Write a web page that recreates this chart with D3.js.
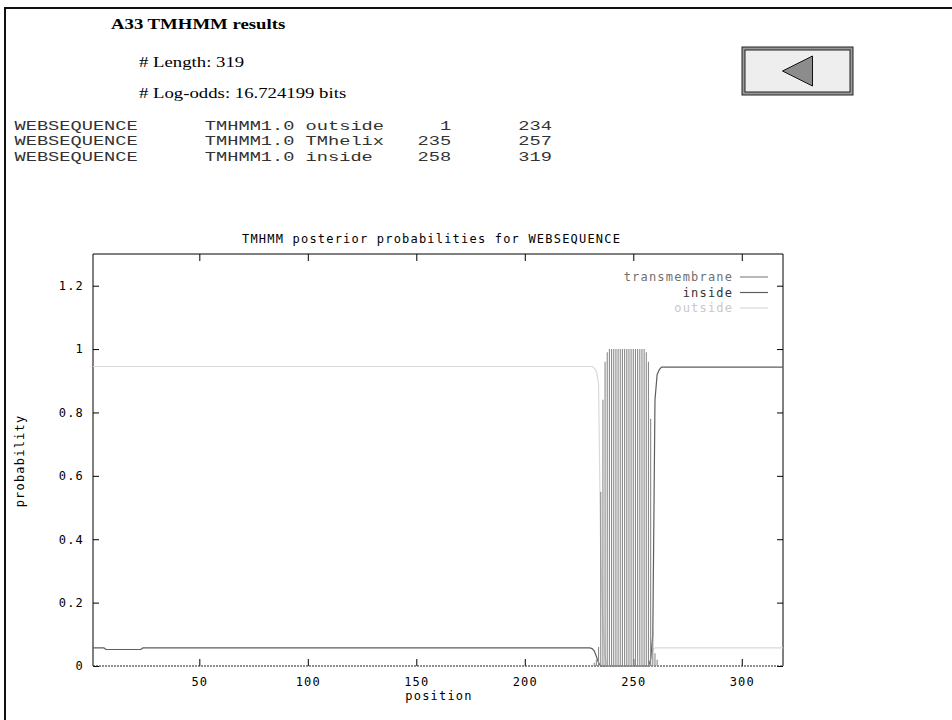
<!DOCTYPE html>
<html>
<head>
<meta charset="utf-8">
<script src="https://cdn.jsdelivr.net/npm/d3@7"></script>
<style>
  body { margin: 0; background: #fff; }
  svg { display: block; }
  .serif { font-family: "Liberation Serif", "Times New Roman", serif; font-size: 15px; fill: #000; }
  .mono { font-family: "Liberation Mono", "Courier New", monospace; font-size: 13.5px; fill: #333; white-space: pre; }
  .gp { font-family: "DejaVu Sans Mono", monospace; font-size: 12px; letter-spacing: 1.2px; }
</style>
</head>
<body>
<div id="page"></div>
<script>
// ---- data ----
const seqName = "A33";
const seqLength = 319;
const logOdds = "16.724199";

const tableNames = ["WEBSEQUENCE", "WEBSEQUENCE", "WEBSEQUENCE"];
const tableTypes = ["outside", "TMhelix", "inside"];
const tableStart = [1, 235, 258];
const tableEnd = [234, 257, 319];

const xTicks = [50, 100, 150, 200, 250, 300];
const yTicks = [0, 0.2, 0.4, 0.6, 0.8, 1, 1.2];

// transmembrane, drawn as impulses (positions with a visible value)
const tmPos = [232, 233, 234, 235, 236, 237, 238, 239, 240, 241, 242, 243, 244, 245, 246,
               247, 248, 249, 250, 251, 252, 253, 254, 255, 256, 257, 258, 259, 260, 261];
const tmVal = [0.01, 0.02, 0.06, 0.55, 0.84, 0.96, 0.99, 1, 1, 1, 1, 1, 1, 1, 1,
               1, 1, 1, 1, 1, 1, 1, 1, 1, 0.99, 0.96, 0.78, 0.11, 0.04, 0.02];

// inside / outside lines (break points of the curves)
const insidePos = [1, 6, 7, 23, 24, 230, 231, 232, 233, 234, 235, 257, 258, 259, 260, 261, 262, 263, 319];
const insideVal = [0.057, 0.057, 0.052, 0.052, 0.057, 0.057, 0.055, 0.048, 0.03, 0.01, 0, 0,
                   0.02, 0.1, 0.84, 0.92, 0.935, 0.943, 0.943];

const outsidePos = [1, 231, 232, 233, 234, 235, 236, 237, 238, 257, 258, 259, 260, 319];
const outsideVal = [0.945, 0.945, 0.94, 0.93, 0.89, 0.35, 0.13, 0.03, 0, 0, 0.02, 0.05, 0.057, 0.057];

const legendNames = ["transmembrane", "inside", "outside"];
const seriesColors = {transmembrane: "#8a8a8a", inside: "#5e5e5e", outside: "#d9d9d9"};
const legendTextColors = {transmembrane: "#707070", inside: "#333333", outside: "#c8c8c8"};

// ---- page ----
const width = 952, height = 720;
const svg = d3.select("#page").append("svg")
    .attr("width", width)
    .attr("height", height);

// frame of the page picture
svg.append("line")
    .attr("x1", 5).attr("x2", 5).attr("y1", 7).attr("y2", height)
    .attr("stroke", "#111").attr("stroke-width", 2);
svg.append("line")
    .attr("x1", 4).attr("x2", width).attr("y1", 8).attr("y2", 8)
    .attr("stroke", "#111").attr("stroke-width", 2);

// the page picture is a bit wider than tall, so header text gets stretched
function placeText(x, y, sx) {
    return "translate(" + x + "," + y + ") scale(" + sx + ",1)";
}

// header
svg.append("text").attr("class", "serif")
    .attr("transform", placeText(111, 28.5, 1.25))
    .attr("font-weight", "bold")
    .text(seqName + " TMHMM results");
svg.append("text").attr("class", "serif")
    .attr("transform", placeText(139, 66.5, 1.25))
    .text("# Length: " + seqLength);
svg.append("text").attr("class", "serif")
    .attr("transform", placeText(139, 97.5, 1.25))
    .text("# Log-odds: " + logOdds + " bits");

// result table (pre formatted)
tableNames.forEach(function(name, i) {
    let line = name.padEnd(17) + "TMHMM1.0 " + tableTypes[i].padEnd(8)
        + String(tableStart[i]).padStart(5) + String(tableEnd[i]).padStart(9);
    svg.append("text").attr("class", "mono")
        .attr("transform", placeText(14.5, 129.5 + i * 15.8, 1.383))
        .text(line);
});

// back button
let btn = svg.append("g");
btn.append("rect")
    .attr("x", 742).attr("y", 47).attr("width", 111).attr("height", 48)
    .attr("fill", "#999").attr("stroke", "#222").attr("stroke-width", 1);
btn.append("rect")
    .attr("x", 745).attr("y", 50).attr("width", 105).attr("height", 42)
    .attr("fill", "#eeeeee").attr("stroke", "#222").attr("stroke-width", 1);
btn.append("path")
    .attr("d", "M782.5,71 L812.5,56 L812.5,86 Z")
    .attr("fill", "#8c8c8c").attr("stroke", "#111").attr("stroke-width", 1);

// ---- plot ----
const plot = {left: 93, right: 783, top: 254, bottom: 666};

const x = d3.scaleLinear().domain([1, seqLength]).range([plot.left, plot.right]);
const y = d3.scaleLinear().domain([0, 1.3]).range([plot.bottom, plot.top]);

function styleAxis(g) {
    g.select(".domain").remove();
    g.attr("font-family", null).attr("font-size", null);
    g.selectAll(".tick line").attr("stroke", "#000");
    g.selectAll(".tick text").attr("class", "gp").attr("fill", "#000");
}

svg.append("g")
    .attr("transform", "translate(" + plot.left + ",0)")
    .call(d3.axisLeft(y).tickValues(yTicks).tickSize(-6).tickPadding(9).tickFormat(d3.format("~g")))
    .call(styleAxis);

svg.append("g")
    .attr("transform", "translate(" + plot.right + ",0)")
    .call(d3.axisRight(y).tickValues(yTicks).tickSize(-6).tickFormat(""))
    .call(styleAxis);

svg.append("g")
    .attr("transform", "translate(0," + plot.bottom + ")")
    .call(d3.axisBottom(x).tickValues(xTicks).tickSize(-7).tickPadding(11))
    .call(styleAxis);

svg.append("g")
    .attr("transform", "translate(0," + plot.top + ")")
    .call(d3.axisTop(x).tickValues(xTicks).tickSize(-7).tickFormat(""))
    .call(styleAxis);

// border: solid left, top, right; dotted zero axis at the bottom
svg.append("path")
    .attr("d", "M" + plot.left + "," + plot.bottom + "V" + plot.top + "H" + plot.right + "V" + plot.bottom)
    .attr("fill", "none").attr("stroke", "#000").attr("stroke-width", 1);
svg.append("line")
    .attr("x1", plot.left).attr("x2", plot.right)
    .attr("y1", plot.bottom).attr("y2", plot.bottom)
    .attr("stroke", "#222").attr("stroke-width", 1.2)
    .attr("stroke-dasharray", "2,1");

// series
let lineGen = d3.line().x(d => x(d[0])).y(d => y(d[1]));

svg.append("path")
    .datum(outsidePos.map((p, i) => [p, outsideVal[i]]))
    .attr("d", lineGen)
    .attr("fill", "none")
    .attr("stroke", seriesColors.outside)
    .attr("stroke-width", 1.2);

svg.append("path")
    .datum(insidePos.map((p, i) => [p, insideVal[i]]))
    .attr("d", lineGen)
    .attr("fill", "none")
    .attr("stroke", seriesColors.inside)
    .attr("stroke-width", 1.2);

svg.append("g").selectAll("line")
    .data(tmPos.map((p, i) => [p, tmVal[i]]))
    .enter().append("line")
    .attr("x1", d => x(d[0])).attr("x2", d => x(d[0]))
    .attr("y1", y(0)).attr("y2", d => y(d[1]))
    .attr("stroke", seriesColors.transmembrane)
    .attr("stroke-width", 1.1);

// legend
let legend = svg.append("g").selectAll("g")
    .data(legendNames)
    .enter().append("g")
    .attr("transform", (d, i) => "translate(0," + (277 + i * 15.5) + ")");

legend.append("text")
    .attr("class", "gp")
    .attr("x", 733.2)
    .attr("dy", "0.35em")
    .attr("text-anchor", "end")
    .attr("fill", d => legendTextColors[d])
    .text(d => d);

legend.append("line")
    .attr("x1", 740).attr("x2", 768)
    .attr("stroke", d => seriesColors[d])
    .attr("stroke-width", 1.2);

// titles
svg.append("text").attr("class", "gp")
    .attr("x", 242).attr("y", 243)
    .attr("fill", "#000")
    .text("TMHMM posterior probabilities for WEBSEQUENCE");

svg.append("text").attr("class", "gp")
    .attr("x", 439).attr("y", 700)
    .attr("text-anchor", "middle")
    .attr("fill", "#000")
    .text("position");

svg.append("text").attr("class", "gp")
    .attr("transform", "translate(24," + ((plot.top + plot.bottom) / 2 + 1) + ") rotate(-90)")
    .attr("text-anchor", "middle")
    .attr("fill", "#000")
    .text("probability");
</script>
</body>
</html>
